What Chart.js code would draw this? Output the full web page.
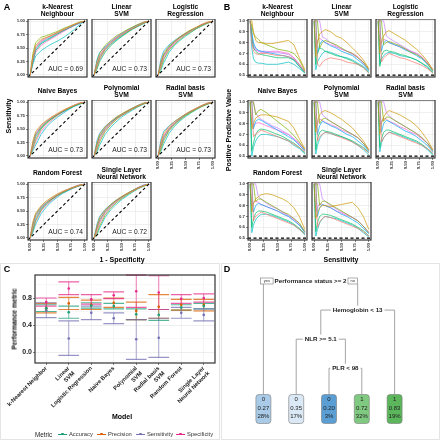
<!DOCTYPE html>
<html>
<head>
<meta charset="utf-8">
<script src="https://cdn.jsdelivr.net/npm/chart.js"></script>
<style>
	body { margin: 0; width: 440px; height: 440px; position: relative; overflow: hidden; background: #fff; font-family: 'Liberation Sans', Arial, sans-serif; }
	canvas { position: absolute; z-index: 1; }
	.txt { position: absolute; z-index: 3; transform: translate(-50%, -50%); white-space: pre; text-align: center; line-height: 1.05; color: #000; font-weight: bold; }
	.lbl { position: absolute; z-index: 3; transform: translateY(-50%); white-space: pre; color: #333; font-size: 5.8px; }
	.frame { position: absolute; border: 1px solid #e4e4e4; box-sizing: border-box; }
</style>
</head>
<body>
<div class="frame" style="left:0;top:263px;width:220px;height:177px"></div>
<div class="frame" style="left:221px;top:263px;width:219px;height:177px"></div>
<script>
const FONT = "'Liberation Sans', Arial, sans-serif";
Chart.defaults.font.family = FONT;
Chart.defaults.animation = false;
Chart.defaults.responsive = false;
Chart.defaults.events = [];
Chart.defaults.plugins.legend.display = false;
Chart.defaults.plugins.tooltip.enabled = false;

// Panels A and B: one facet per model
const facetTitles = ['k-Nearest\nNeighbour', 'Linear\nSVM', 'Logistic\nRegression', 'Naive Bayes', 'Polynomial\nSVM', 'Radial basis\nSVM', 'Random Forest', 'Single Layer\nNeural Network'];
const aucValues = [0.69, 0.73, 0.73, 0.73, 0.73, 0.73, 0.74, 0.72];
const unitTicks = [0, 0.25, 0.5, 0.75, 1];
const ppvTicks = [0.5, 0.6, 0.7, 0.8, 0.9, 1.0];

// ROC curves, sensitivity read at these 1 - specificity values
const rocX = [0, 0.05, 0.1, 0.2, 0.3, 0.4, 0.5, 0.6, 0.7, 0.8, 0.9, 1];
const rocKnn = [
	[0, .30, .50, .62, .68, .73, .78, .83, .88, .93, .97, 1],
	[0, .35, .55, .66, .70, .74, .79, .84, .89, .94, .98, 1],
	[0, .40, .60, .70, .73, .77, .81, .86, .90, .94, .98, 1],
	[0, .25, .45, .58, .64, .70, .76, .82, .87, .92, .97, 1],
	[0, .20, .35, .45, .52, .58, .63, .69, .76, .84, .93, 1],
	[0, .28, .48, .60, .66, .71, .77, .82, .87, .92, .96, 1],
	[0, .33, .52, .64, .69, .74, .79, .84, .89, .93, .97, 1],
	[0, .22, .42, .55, .62, .68, .74, .80, .86, .91, .96, 1],
];
const rocLinear = [
	[0, .22, .35, .50, .60, .68, .75, .81, .87, .92, .97, 1],
	[0, .15, .30, .47, .58, .67, .74, .80, .86, .91, .96, 1],
	[0, .25, .40, .55, .64, .72, .78, .84, .89, .94, .98, 1],
	[0, .10, .25, .42, .54, .63, .71, .78, .85, .91, .96, 1],
	[0, .18, .33, .48, .57, .65, .72, .79, .85, .90, .95, 1],
	[0, .28, .42, .52, .61, .69, .76, .82, .88, .93, .97, 1],
	[0, .12, .28, .45, .56, .66, .73, .80, .87, .92, .97, 1],
	[0, .20, .36, .51, .62, .70, .77, .83, .88, .93, .98, 1],
];
const rocLogistic = [
	[0, .18, .34, .50, .60, .69, .76, .82, .88, .93, .97, 1],
	[0, .25, .40, .54, .63, .71, .78, .84, .89, .94, .98, 1],
	[0, .12, .28, .46, .57, .66, .74, .80, .86, .92, .96, 1],
	[0, .20, .37, .52, .62, .70, .77, .83, .88, .93, .97, 1],
	[0, .08, .22, .42, .55, .64, .72, .79, .86, .91, .96, 1],
	[0, .30, .44, .56, .64, .71, .77, .83, .88, .93, .97, 1],
	[0, .15, .31, .48, .59, .68, .75, .82, .87, .92, .97, 1],
	[0, .22, .36, .50, .61, .70, .76, .82, .88, .94, .98, 1],
];
const rocNaiveBayes = [
	[0, .20, .38, .55, .64, .72, .78, .84, .89, .94, .98, 1],
	[0, .28, .45, .58, .66, .73, .79, .85, .90, .94, .98, 1],
	[0, .15, .30, .50, .61, .69, .76, .83, .88, .93, .97, 1],
	[0, .22, .40, .53, .63, .70, .77, .83, .88, .93, .97, 1],
	[0, .10, .20, .40, .54, .64, .72, .79, .86, .92, .96, 1],
	[0, .18, .35, .52, .62, .70, .77, .82, .87, .92, .96, 1],
	[0, .25, .42, .56, .65, .71, .77, .83, .89, .94, .98, 1],
	[0, .12, .26, .46, .58, .67, .75, .81, .87, .93, .97, 1],
];
const rocPolynomial = [
	[0, .16, .32, .49, .60, .69, .76, .82, .88, .93, .97, 1],
	[0, .24, .40, .54, .64, .72, .78, .84, .89, .94, .98, 1],
	[0, .10, .26, .45, .57, .67, .75, .81, .87, .92, .97, 1],
	[0, .20, .36, .51, .61, .70, .77, .83, .88, .93, .97, 1],
	[0, .06, .20, .40, .53, .63, .72, .79, .85, .91, .96, 1],
	[0, .28, .42, .55, .63, .71, .77, .83, .89, .94, .98, 1],
	[0, .14, .30, .47, .59, .68, .75, .81, .87, .92, .97, 1],
	[0, .22, .37, .52, .62, .70, .76, .82, .88, .93, .97, 1],
];
const rocRadial = [
	[0, .20, .36, .51, .61, .70, .77, .83, .88, .93, .97, 1],
	[0, .26, .42, .55, .64, .71, .78, .84, .89, .94, .98, 1],
	[0, .12, .28, .47, .58, .67, .75, .81, .87, .92, .96, 1],
	[0, .18, .34, .50, .60, .69, .76, .82, .88, .93, .97, 1],
	[0, .08, .22, .42, .55, .65, .73, .80, .86, .92, .96, 1],
	[0, .30, .45, .56, .64, .71, .77, .83, .88, .93, .97, 1],
	[0, .15, .31, .48, .59, .68, .76, .82, .88, .93, .98, 1],
	[0, .23, .38, .52, .62, .70, .77, .83, .89, .94, .98, 1],
];
const rocRandomForest = [
	[0, .22, .40, .56, .66, .74, .80, .86, .90, .94, .98, 1],
	[0, .30, .46, .60, .69, .76, .82, .87, .91, .95, .98, 1],
	[0, .15, .32, .52, .63, .72, .79, .85, .90, .94, .97, 1],
	[0, .25, .42, .57, .66, .73, .80, .85, .90, .94, .98, 1],
	[0, .10, .25, .45, .58, .68, .76, .83, .88, .93, .97, 1],
	[0, .18, .36, .54, .64, .72, .79, .85, .89, .94, .97, 1],
	[0, .28, .44, .58, .67, .74, .81, .86, .91, .95, .99, 1],
	[0, .12, .30, .50, .61, .70, .78, .84, .89, .93, .97, 1],
];
const rocNeuralNet = [
	[0, .15, .30, .47, .59, .68, .75, .82, .87, .92, .97, 1],
	[0, .22, .38, .52, .62, .70, .77, .83, .88, .93, .97, 1],
	[0, .08, .22, .42, .55, .65, .73, .80, .86, .92, .96, 1],
	[0, .18, .33, .49, .60, .69, .76, .82, .88, .93, .97, 1],
	[0, .05, .18, .38, .52, .62, .71, .78, .85, .91, .96, 1],
	[0, .25, .40, .53, .62, .70, .76, .82, .88, .93, .98, 1],
	[0, .12, .27, .45, .57, .67, .74, .81, .87, .92, .97, 1],
	[0, .20, .35, .50, .61, .69, .76, .82, .88, .94, .98, 1],
];

// precision (PPV) curves, read at these sensitivity values
const ppvX = [0, 0.03, 0.06, 0.1, 0.15, 0.2, 0.3, 0.4, 0.5, 0.6, 0.7, 0.8, 0.9, 1];
const ppvKnn = [
	[1, .80, .72, .70, .69, .70, .70, .69, .68, .68, .67, .65, .60, .53],
	[1, 1, .90, .82, .80, .80, .79, .79, .80, .81, .82, .78, .66, .55],
	[1, .95, .88, .85, .83, .80, .78, .76, .74, .73, .72, .70, .64, .54],
	[1, .85, .75, .72, .70, .69, .68, .67, .66, .66, .66, .64, .58, .52],
	[1, .75, .65, .62, .61, .61, .60, .60, .60, .61, .62, .60, .56, .52],
	[1, .90, .80, .75, .73, .72, .71, .70, .69, .68, .67, .64, .58, .53],
	[1, .88, .78, .74, .72, .72, .72, .71, .71, .70, .69, .66, .60, .53],
	[1, .82, .76, .73, .72, .71, .71, .72, .72, .71, .70, .66, .59, .53],
];
const ppvLinear = [
	[1, 1, .60, .58, .62, .64, .66, .65, .64, .62, .61, .60, .57, .52],
	[1, .67, .80, .88, .90, .92, .90, .86, .84, .80, .75, .70, .64, .56],
	[1, 1, 1, .75, .80, .82, .80, .78, .75, .72, .70, .66, .62, .55],
	[1, .60, .70, .75, .74, .72, .70, .68, .67, .65, .63, .60, .57, .52],
	[1, .55, .62, .66, .70, .72, .71, .69, .67, .66, .64, .61, .58, .53],
	[1, 1, .70, .78, .82, .80, .77, .75, .72, .70, .68, .64, .60, .54],
	[1, 1, 1, 1, .85, .84, .80, .77, .74, .72, .69, .66, .61, .55],
	[1, .75, .82, .84, .82, .80, .78, .76, .74, .72, .70, .67, .62, .55],
];
const ppvLogistic = [
	[1, 1, .62, .66, .68, .70, .68, .66, .65, .63, .61, .59, .56, .52],
	[1, .70, .82, .86, .90, .91, .88, .85, .82, .78, .74, .69, .63, .55],
	[1, 1, 1, .78, .80, .81, .79, .77, .74, .71, .69, .66, .61, .54],
	[1, .58, .68, .72, .73, .72, .71, .69, .68, .66, .64, .61, .58, .52],
	[1, .60, .65, .68, .70, .71, .70, .68, .67, .66, .64, .61, .57, .53],
	[1, 1, .72, .80, .82, .80, .78, .76, .73, .71, .68, .65, .60, .54],
	[1, 1, 1, 1, .86, .84, .81, .78, .75, .72, .70, .66, .61, .55],
	[1, .78, .80, .83, .82, .80, .78, .76, .74, .72, .70, .67, .62, .55],
];
const ppvNaiveBayes = [
	[1, 1, .68, .70, .72, .74, .72, .70, .68, .66, .64, .61, .58, .54],
	[1, .75, .80, .85, .87, .88, .88, .87, .86, .84, .82, .76, .66, .57],
	[1, 1, 1, .88, .92, .93, .90, .86, .82, .78, .74, .69, .63, .56],
	[1, .55, .62, .70, .74, .75, .74, .72, .70, .68, .65, .62, .58, .53],
	[1, .50, .58, .64, .68, .70, .70, .69, .68, .66, .64, .60, .57, .52],
	[1, 1, .75, .82, .84, .83, .80, .77, .74, .71, .68, .65, .60, .55],
	[1, 1, 1, .90, .86, .84, .81, .78, .76, .73, .70, .66, .61, .55],
	[1, .80, .78, .80, .81, .80, .78, .76, .74, .72, .70, .66, .62, .56],
];
const ppvPolynomial = [
	[1, 1, .64, .68, .70, .72, .71, .69, .67, .65, .63, .60, .57, .53],
	[1, .72, .82, .88, .91, .92, .90, .87, .84, .80, .76, .70, .64, .56],
	[1, 1, 1, .80, .84, .85, .82, .79, .76, .73, .70, .67, .62, .55],
	[1, .56, .66, .72, .74, .73, .72, .70, .68, .66, .64, .61, .58, .53],
	[1, .52, .60, .66, .70, .72, .71, .69, .68, .66, .63, .60, .56, .51],
	[1, 1, .70, .78, .82, .81, .78, .76, .73, .70, .68, .64, .60, .54],
	[1, 1, 1, 1, .88, .86, .82, .79, .76, .73, .70, .67, .62, .55],
	[1, .76, .80, .84, .83, .81, .79, .77, .74, .72, .70, .67, .62, .56],
];
const ppvRadial = [
	[1, 1, .63, .67, .70, .72, .70, .68, .66, .64, .62, .60, .57, .53],
	[1, .70, .80, .86, .90, .92, .90, .88, .85, .82, .78, .72, .65, .56],
	[1, 1, 1, .82, .86, .86, .83, .80, .77, .74, .71, .67, .62, .55],
	[1, .58, .66, .72, .74, .74, .72, .70, .68, .66, .64, .61, .57, .52],
	[1, .54, .62, .67, .70, .72, .71, .69, .67, .65, .63, .60, .56, .51],
	[1, 1, .72, .80, .83, .82, .79, .76, .73, .71, .68, .64, .60, .54],
	[1, 1, 1, 1, .90, .87, .83, .80, .77, .74, .71, .67, .62, .56],
	[1, .78, .82, .85, .84, .82, .80, .77, .75, .72, .70, .66, .62, .55],
];
const ppvRandomForest = [
	[1, 1, .66, .70, .72, .74, .72, .70, .68, .66, .64, .62, .58, .54],
	[1, .74, .82, .86, .88, .90, .91, .90, .88, .86, .83, .78, .70, .58],
	[1, 1, 1, .84, .86, .86, .83, .80, .77, .74, .72, .68, .64, .56],
	[1, .60, .68, .73, .75, .75, .74, .72, .70, .68, .66, .63, .59, .54],
	[1, .55, .62, .67, .70, .72, .72, .71, .69, .67, .65, .62, .58, .53],
	[1, 1, .74, .80, .82, .81, .79, .77, .75, .72, .70, .66, .62, .55],
	[1, 1, 1, 1, .88, .86, .82, .79, .77, .74, .71, .68, .63, .56],
	[1, .80, .83, .84, .83, .81, .79, .77, .75, .73, .70, .67, .62, .56],
];
const ppvNeuralNet = [
	[1, 1, .60, .65, .68, .70, .69, .67, .65, .63, .61, .59, .56, .52],
	[1, .68, .74, .78, .80, .80, .79, .80, .81, .82, .83, .78, .70, .58],
	[1, 1, 1, .80, .84, .84, .81, .78, .75, .72, .69, .66, .61, .55],
	[1, .56, .64, .70, .72, .72, .71, .69, .67, .65, .63, .60, .57, .52],
	[1, .52, .58, .64, .68, .70, .69, .68, .66, .64, .62, .59, .55, .51],
	[1, 1, .70, .78, .81, .80, .78, .75, .72, .70, .67, .64, .59, .54],
	[1, 1, 1, 1, .86, .84, .80, .77, .74, .72, .69, .66, .61, .55],
	[1, .74, .78, .82, .81, .80, .78, .75, .73, .71, .69, .66, .61, .55],
];

// Panel C: cross-validated performance, mean and interval per model
const modelLabels = [['k-Nearest Neighbor'], ['Linear', 'SVM'], ['Logistic Regression'], ['Naive Bayes'], ['Polynomial', 'SVM'], ['Radial basis', 'SVM'], ['Random Forest'], ['Single Layer', 'Neural Network']];
const metricNames = ['Accuracy', 'Precision', 'Sensitivity', 'Specificity'];
const accuracyMean = [0.65, 0.59, 0.69, 0.68, 0.56, 0.55, 0.66, 0.68];
const accuracyLow = [0.60, 0.50, 0.65, 0.64, 0.48, 0.47, 0.62, 0.64];
const accuracyHigh = [0.70, 0.68, 0.73, 0.72, 0.64, 0.63, 0.70, 0.72];
const precisionMean = [0.65, 0.72, 0.70, 0.73, 0.61, 0.67, 0.70, 0.70];
const precisionLow = [0.58, 0.63, 0.63, 0.66, 0.48, 0.50, 0.62, 0.61];
const precisionHigh = [0.72, 0.81, 0.77, 0.80, 0.74, 0.85, 0.78, 0.78];
const sensitivityMean = [0.62, 0.20, 0.58, 0.50, 0.19, 0.21, 0.58, 0.55];
const sensitivityLow = [0.51, -0.05, 0.48, 0.42, -0.11, -0.08, 0.50, 0.46];
const sensitivityHigh = [0.73, 0.46, 0.68, 0.58, 0.48, 0.50, 0.66, 0.64];
const specificityMean = [0.74, 0.94, 0.78, 0.84, 0.90, 0.88, 0.79, 0.80];
const specificityLow = [0.68, 0.85, 0.71, 0.79, 0.66, 0.63, 0.72, 0.74];
const specificityHigh = [0.80, 1.04, 0.85, 0.89, 1.14, 1.13, 0.85, 0.86];
const perfTicks = [0, 0.2, 0.4, 0.6, 0.8, 1.0];

// Panel D: decision tree
const treeSplits = ['Performance status >= 2', 'Hemoglobin < 13', 'NLR >= 5.1', 'PLR < 98'];
const treeChildren = [['l0', 's1'], ['s2', 'l4'], ['l1', 's3'], ['l2', 'l3']];
const leafClass = [0, 0, 0, 1, 1];
const leafProb = [0.27, 0.35, 0.20, 0.72, 0.83];
const leafShare = [28, 17, 3, 32, 19];

// styles
const hueColors = ['#F8766D', '#CD9600', '#7CAE00', '#00BE67', '#00BFC4', '#00A9FF', '#C77CFF', '#FF61CC'];
const metricColors = ['#1B9E77', '#D95F02', '#7570B3', '#E7298A'];
const leafFill = ['#a9cbe8', '#dbe8f5', '#5a9ed4', '#80c980', '#5cb65c'];
const BOX_W = 59, BOX_H = 58;
const rowTops = [19, 100, 182];

function addCanvas(left, top, w, h) {
	const cv = document.createElement('canvas');
	cv.width = w;
	cv.height = h;
	cv.style.left = left + 'px';
	cv.style.top = top + 'px';
	document.body.appendChild(cv);
	return cv;
}

function addText(txt, x, y, size, extra) {
	const d = document.createElement('div');
	d.className = 'txt';
	d.textContent = txt;
	d.style.left = x + 'px';
	d.style.top = y + 'px';
	d.style.fontSize = size + 'px';
	if (extra) d.style.transform = 'translate(-50%, -50%) ' + extra;
	document.body.appendChild(d);
}

const framePlugin = {
	id: 'frame',
	afterDraw(chart) {
		const a = chart.chartArea, c = chart.ctx;
		c.save();
		c.strokeStyle = '#333';
		c.lineWidth = 1.2;
		c.strokeRect(a.left, a.top, a.right - a.left, a.bottom - a.top);
		c.restore();
	},
};

const aucPlugin = {
	id: 'aucLabel',
	afterDatasetsDraw(chart, args, opts) {
		if (!opts || !opts.text) return;
		const { ctx, chartArea: a } = chart;
		ctx.save();
		ctx.font = '6.7px ' + FONT;
		ctx.fillStyle = '#1a1a1a';
		ctx.textAlign = 'right';
		ctx.textBaseline = 'middle';
		ctx.fillText(opts.text, a.right - 4, a.bottom - 7.5);
		ctx.restore();
	},
};

function smallChart(boxLeft, boxTop, opt) {
	const padL = 22, padB = 22, padR = 2;
	const cv = addCanvas(boxLeft - padL, boxTop, padL + BOX_W + padR, BOX_H + padB);
	const datasets = opt.curves.map((ys, i) => ({
		data: ys.map((y, j) => ({ x: opt.xs[j], y: y })),
		borderColor: hueColors[i],
		borderWidth: 0.7,
		showLine: true,
		order: 1,
	}));
	datasets.push({ data: opt.refLine, borderColor: '#000', borderWidth: 1.1, borderDash: [3, 2.5], showLine: true, order: 0 });
	const tickFont = { size: 4.3, weight: 'bold', family: FONT };
	new Chart(cv, {
		type: 'scatter',
		data: { datasets },
		options: {
			elements: { point: { radius: 0 } },
			layout: { padding: { right: padR }, autoPadding: false },
			plugins: { aucLabel: { text: opt.auc } },
			scales: {
				x: {
					type: 'linear', min: -0.04, max: 1.04,
					afterBuildTicks: (s) => { s.ticks = unitTicks.map((v) => ({ value: v })); },
					ticks: { display: opt.showX, autoSkip: false, minRotation: 90, maxRotation: 90, padding: 1, font: tickFont, color: '#333', callback: (v) => v.toFixed(2) },
					grid: { color: '#e6e6e6', lineWidth: 0.6, drawTicks: opt.showX, tickLength: 2, tickColor: '#333' },
					border: { display: false },
					afterFit: (s) => { s.height = padB; s.paddingLeft = 0; s.paddingRight = 0; },
				},
				y: {
					type: 'linear', min: opt.yMin, max: opt.yMax,
					afterBuildTicks: (s) => { s.ticks = opt.yTicks.map((v) => ({ value: v })); },
					ticks: { display: opt.showY, autoSkip: false, padding: 1, font: tickFont, color: '#333', callback: (v) => v.toFixed(opt.yDigits) },
					grid: { color: '#e6e6e6', lineWidth: 0.6, drawTicks: opt.showY, tickLength: 2, tickColor: '#333' },
					border: { display: false },
					afterFit: (s) => { s.width = padL; s.paddingTop = 0; s.paddingBottom = 0; },
				},
			},
		},
		plugins: [framePlugin, aucPlugin],
	});
}

function drawFacets(colLefts, curveSets, xs, yMin, yMax, yTicks, yDigits, refLine, withAuc) {
	facetTitles.forEach((title, i) => {
		const row = Math.floor(i / 3), col = i % 3;
		const left = colLefts[col], top = rowTops[row];
		addText(title, left + BOX_W / 2, top - 9.5, 6.7);
		smallChart(left, top, {
			curves: curveSets[i], xs, yMin, yMax, yTicks, yDigits, refLine,
			showX: row === 2 || (row === 1 && col === 2),
			showY: col === 0,
			auc: withAuc ? 'AUC = ' + aucValues[i].toFixed(2) : '',
		});
	});
}

// ---- Panel A ----
addText('A', 7, 8, 9);
drawFacets([28, 92, 156],
	[rocKnn, rocLinear, rocLogistic, rocNaiveBayes, rocPolynomial, rocRadial, rocRandomForest, rocNeuralNet],
	rocX, -0.04, 1.04, unitTicks, 2, [{ x: -0.04, y: -0.04 }, { x: 1.04, y: 1.04 }], true);
addText('Sensitivity', 9, 116, 7, 'rotate(-90deg)');
addText('1 - Specificity', 122, 260, 7);

// ---- Panel B ----
addText('B', 227, 8, 9);
drawFacets([248, 312, 376],
	[ppvKnn, ppvLinear, ppvLogistic, ppvNaiveBayes, ppvPolynomial, ppvRadial, ppvRandomForest, ppvNeuralNet],
	ppvX, 0.483, 1.017, ppvTicks, 1, [{ x: -0.04, y: 0.5 }, { x: 1.04, y: 0.5 }], false);
addText('Positive Predictive Value', 229, 130, 7, 'rotate(-90deg)');
addText('Sensitivity', 341, 260, 7);

// ---- Panel C ----
addText('C', 7, 270, 9);
const metricMeans = [accuracyMean, precisionMean, sensitivityMean, specificityMean];
const metricLows = [accuracyLow, precisionLow, sensitivityLow, specificityLow];
const metricHighs = [accuracyHigh, precisionHigh, sensitivityHigh, specificityHigh];

const errorBarPlugin = {
	id: 'errorBars',
	beforeDatasetsDraw(chart) {
		const { ctx, scales: { x, y } } = chart;
		const capHalf = (x.getPixelForValue(1) - x.getPixelForValue(0)) * 0.46;
		ctx.save();
		chart.data.datasets.forEach((ds) => {
			ctx.strokeStyle = ds.borderColor;
			ctx.globalAlpha = 0.75;
			ds.data.forEach((m, i) => {
				const px = x.getPixelForValue(i);
				const lo = y.getPixelForValue(ds.low[i]);
				const hi = y.getPixelForValue(ds.high[i]);
				ctx.lineWidth = 0.8;
				ctx.beginPath();
				ctx.moveTo(px, lo);
				ctx.lineTo(px, hi);
				ctx.stroke();
				ctx.lineWidth = 1.2;
				ctx.beginPath();
				ctx.moveTo(px - capHalf, lo);
				ctx.lineTo(px + capHalf, lo);
				ctx.moveTo(px - capHalf, hi);
				ctx.lineTo(px + capHalf, hi);
				ctx.stroke();
			});
		});
		ctx.restore();
	},
};

new Chart(addCanvas(0, 264, 218, 150), {
	type: 'line',
	data: {
		labels: modelLabels,
		datasets: metricNames.map((name, k) => ({
			label: name,
			data: metricMeans[k],
			low: metricLows[k],
			high: metricHighs[k],
			showLine: false,
			borderColor: metricColors[k],
			pointRadius: 1.3,
			pointBorderWidth: 0,
			pointBackgroundColor: metricColors[k],
		})),
	},
	options: {
		layout: { padding: { top: 11, right: 3 }, autoPadding: false },
		scales: {
			x: {
				offset: true,
				grid: { offset: false, color: '#ececec', lineWidth: 0.6, tickLength: 2, tickColor: '#333' },
				border: { display: false },
				ticks: { autoSkip: false, minRotation: 45, maxRotation: 45, padding: 0, font: { size: 5.8, weight: 'bold' }, color: '#222' },
				afterFit: (s) => { s.height = 51; s.paddingLeft = 0; s.paddingRight = 0; },
			},
			y: {
				min: -0.163, max: 1.141,
				afterBuildTicks: (s) => { s.ticks = perfTicks.map((v) => ({ value: v })); },
				ticks: { padding: 1, font: { size: 7, weight: 'bold' }, color: '#222', callback: (v, i) => (i % 2 === 0 ? v.toFixed(1) : '') },
				grid: {
					lineWidth: 0.6, tickLength: 2,
					color: (ctx) => (ctx.index % 2 === 0 ? '#e2e2e2' : '#f1f1f1'),
					tickColor: (ctx) => (ctx.index % 2 === 0 ? '#333' : 'rgba(0,0,0,0)'),
				},
				border: { display: false },
				afterFit: (s) => { s.width = 35; s.paddingTop = 0; s.paddingBottom = 0; },
			},
		},
	},
	plugins: [framePlugin, errorBarPlugin],
});
addText('Performance metric', 15, 319, 6.5, 'rotate(-90deg)');
addText('Model', 122, 417, 7);

// legend for panel C
const legendKeyX = [58, 97, 136, 176];
const metricLabel = document.createElement('div');
metricLabel.className = 'lbl';
metricLabel.textContent = 'Metric';
metricLabel.style.cssText = 'left:35px;top:434px;font-size:6.3px;color:#222';
document.body.appendChild(metricLabel);
metricNames.forEach((name, k) => {
	const key = document.createElement('div');
	key.style.cssText = `position:absolute;left:${legendKeyX[k]}px;top:433.5px;width:9px;height:0;border-top:1px solid ${metricColors[k]}`;
	document.body.appendChild(key);
	const dot = document.createElement('div');
	dot.style.cssText = `position:absolute;left:${legendKeyX[k] + 3.2}px;top:432.7px;width:2.6px;height:2.6px;border-radius:50%;background:${metricColors[k]}`;
	document.body.appendChild(dot);
	const t = document.createElement('div');
	t.className = 'lbl';
	t.textContent = name;
	t.style.left = legendKeyX[k] + 11 + 'px';
	t.style.top = '434px';
	document.body.appendChild(t);
});

// ---- Panel D ----
addText('D', 227, 270, 9);
const LEAF_LEVEL = 4.4;

function layoutTree(id, depth, out) {
	if (id[0] === 'l') {
		const pos = { id, x: +id.slice(1), y: LEAF_LEVEL };
		out[id] = pos;
		return pos;
	}
	const k = +id.slice(1);
	const kids = treeChildren[k].map((c) => layoutTree(c, depth + 1, out));
	const pos = { id, x: (kids[0].x + kids[1].x) / 2, y: depth };
	out[id] = pos;
	return pos;
}

const treePlugin = {
	id: 'tree',
	afterDraw(chart) {
		const { ctx, scales: { x, y } } = chart;
		const nodes = {};
		layoutTree('s0', 0, nodes);
		const P = (n) => ({ px: x.getPixelForValue(n.x), py: y.getPixelForValue(n.y) });
		const splitFont = 'bold 6.2px ' + FONT;
		ctx.save();
		ctx.textAlign = 'center';
		ctx.textBaseline = 'middle';
		// edges
		ctx.strokeStyle = '#9a9a9a';
		ctx.lineWidth = 0.9;
		treeSplits.forEach((label, k) => {
			const p = P(nodes['s' + k]);
			ctx.font = splitFont;
			const w = ctx.measureText(label).width;
			treeChildren[k].forEach((cid, side) => {
				const c = P(nodes[cid]);
				const bottom = cid[0] === 'l' ? c.py - 14.5 : c.py - 4.5;
				ctx.beginPath();
				if (k === 0) {
					ctx.moveTo(c.px, p.py + 3);
				} else {
					ctx.moveTo(side === 0 ? p.px - w / 2 - 2 : p.px + w / 2 + 2, p.py);
					ctx.lineTo(c.px, p.py);
				}
				ctx.lineTo(c.px, bottom);
				ctx.stroke();
			});
		});
		// split labels
		treeSplits.forEach((label, k) => {
			const p = P(nodes['s' + k]);
			ctx.font = splitFont;
			ctx.fillStyle = '#1a1a1a';
			ctx.fillText(label, p.px, p.py);
			if (k === 0) {
				const w = ctx.measureText(label).width;
				ctx.font = '4px ' + FONT;
				ctx.strokeStyle = '#777';
				ctx.lineWidth = 0.6;
				ctx.fillStyle = '#fff';
				ctx.fillRect(p.px - w / 2 - 14, p.py - 3, 12.5, 6);
				ctx.strokeRect(p.px - w / 2 - 14, p.py - 3, 12.5, 6);
				ctx.fillRect(p.px + w / 2 + 1.5, p.py - 3, 9.5, 6);
				ctx.strokeRect(p.px + w / 2 + 1.5, p.py - 3, 9.5, 6);
				ctx.fillStyle = '#333';
				ctx.fillText('yes', p.px - w / 2 - 7.75, p.py + 0.3);
				ctx.fillText('no', p.px + w / 2 + 6.25, p.py + 0.3);
			}
		});
		// leaves
		leafClass.forEach((cls, i) => {
			const p = P(nodes['l' + i]);
			ctx.fillStyle = leafFill[i];
			ctx.strokeStyle = '#7a7a7a';
			ctx.lineWidth = 0.6;
			ctx.beginPath();
			ctx.roundRect(p.px - 7.5, p.py - 14.5, 15, 29, 3);
			ctx.fill();
			ctx.stroke();
			ctx.fillStyle = '#222';
			ctx.font = '6px ' + FONT;
			ctx.fillText(String(cls), p.px, p.py - 9.5);
			ctx.fillText(leafProb[i].toFixed(2), p.px, p.py - 1);
			ctx.fillText(leafShare[i] + '%', p.px, p.py + 7.5);
		});
		ctx.restore();
	},
};

new Chart(addCanvas(222, 264, 218, 176), {
	type: 'scatter',
	data: { datasets: [] },
	options: {
		layout: { padding: { left: 25, right: 29, top: 17, bottom: 31 }, autoPadding: false },
		scales: {
			x: { display: false, min: -0.5, max: 4.5 },
			y: { display: false, reverse: true, min: 0, max: LEAF_LEVEL },
		},
	},
	plugins: [treePlugin],
});
</script>
</body>
</html>
